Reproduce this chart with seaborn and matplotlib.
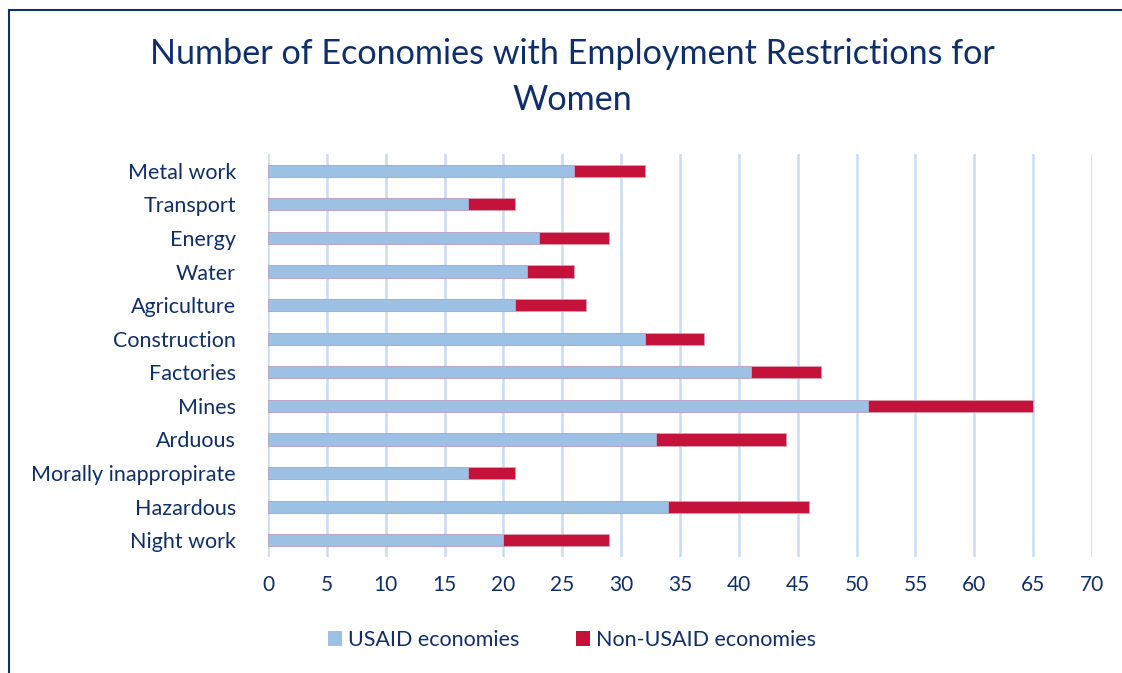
import matplotlib
matplotlib.use("Agg")
import matplotlib.pyplot as plt
from matplotlib.patches import Patch, Rectangle
import seaborn as sns
import pandas as pd

categories = ["Metal work", "Transport", "Energy", "Water", "Agriculture", "Construction",
              "Factories", "Mines", "Arduous", "Morally inappropirate", "Hazardous", "Night work"]
usaid = [26, 17, 23, 22, 21, 32, 41, 51, 33, 17, 34, 20]
non_usaid = [6, 4, 6, 4, 6, 5, 6, 14, 11, 4, 12, 9]
xticks = list(range(0, 75, 5))

total = [a + b for a, b in zip(usaid, non_usaid)]
df = pd.DataFrame({"cat": categories, "usaid": usaid, "total": total})

BLUE = "#9DC0E5"
RED = "#C4123A"
NAVY = "#0E2F6B"
GRID = "#C6DCF7"

sns.set_theme(style="white")
plt.rcParams["font.family"] = ["Lato", "DejaVu Sans"]

fig = plt.figure(figsize=(11.22, 6.73), dpi=100)
ax = fig.add_axes([268/1122, 1-557/673, (1092-268)/1122, (557-154)/673])

sns.barplot(data=df, y="cat", x="total", color=RED, saturation=1, width=0.36,
            edgecolor="#D9A0B0", linewidth=0.6, ax=ax, orient="h")
sns.barplot(data=df, y="cat", x="usaid", color=BLUE, saturation=1, width=0.36,
            edgecolor="#B9A5C8", linewidth=0.6, ax=ax, orient="h")

ax.set_xlim(0, 70)
ax.set_xticks(xticks)
ax.set_xticklabels([str(t) for t in xticks])
ax.set_ylim(len(categories) - 0.5, -0.5)
ax.set_xlabel("")
ax.set_ylabel("")
for s in ax.spines.values():
    s.set_visible(False)
ax.grid(axis="x", color=GRID, linewidth=1.8)
ax.grid(axis="y", visible=False)
ax.set_axisbelow(True)
ax.tick_params(axis="x", length=0, colors=NAVY, labelsize=15, pad=13)
ax.tick_params(axis="y", length=0, colors=NAVY, labelsize=15.5, pad=23)
for lbl in ax.get_xticklabels() + ax.get_yticklabels():
    lbl.set_color(NAVY)

fig.text(572/1122, 1-77/673, "Number of Economies with Employment Restrictions for\nWomen",
         ha="center", va="center", fontsize=24.6, color=NAVY, linespacing=1.55)

handles = [Patch(facecolor=BLUE, edgecolor="none", label="USAID economies"),
           Patch(facecolor=RED, edgecolor="none", label="Non-USAID economies")]
fig.legend(handles=handles, loc="center", bbox_to_anchor=(572/1122, 1-640/673), ncol=2,
           frameon=False, fontsize=15.5, labelcolor=NAVY, handlelength=0.65, handleheight=0.65,
           handletextpad=0.3, columnspacing=2.6)

fig.patches.append(Rectangle((9/1122, -0.1), 1.2, 1 - 10/673 + 0.1, transform=fig.transFigure,
                             fill=False, edgecolor=NAVY, linewidth=1.5, figure=fig))

fig.savefig("out.png", dpi=100, facecolor="white")
